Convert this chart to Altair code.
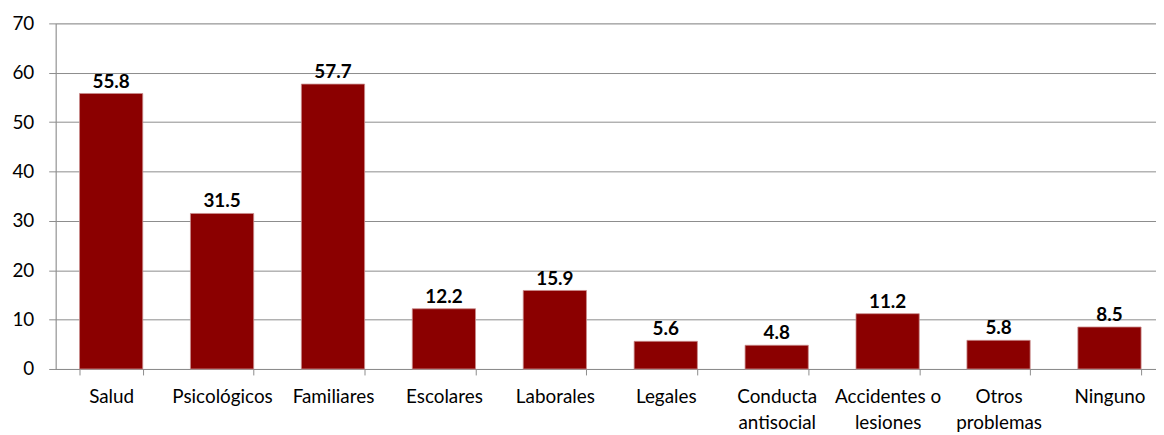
import altair as alt
import pandas as pd

categories = ["Salud", "Psicológicos", "Familiares", "Escolares", "Laborales",
              "Legales", "Conducta\nantisocial", "Accidentes o\nlesiones",
              "Otros\nproblemas", "Ninguno"]
values = [55.8, 31.5, 57.7, 12.2, 15.9, 5.6, 4.8, 11.2, 5.8, 8.5]
y_ticks = [0, 10, 20, 30, 40, 50, 60, 70]

df = pd.DataFrame({"cat": categories, "val": values})
df["lab"] = df["val"].map(lambda v: f"{v:.1f}")

FONT = "Lato"
GRID = "#8c8c8c"

x = alt.X("cat:N", sort=categories, title=None,
          scale=alt.Scale(range=[0, 1117], paddingInner=0.43, paddingOuter=0.215),
          axis=alt.Axis(labelAngle=0, labelExpr="split(datum.label, '\\n')",
                        labelFont=FONT, labelFontSize=19, labelColor="#000000",
                        labelLineHeight=26, labelPadding=13, tickBand="extent",
                        tickSize=6, tickColor=GRID, domainColor=GRID,
                        labelBaseline="top", labelAlign="center"))
y = alt.Y("val:Q", title=None,
          scale=alt.Scale(domain=[0, 70], nice=False),
          axis=alt.Axis(values=y_ticks, labelFont=FONT, labelFontSize=19,
                        labelColor="#000000", labelPadding=15, tickSize=7,
                        tickColor=GRID, domainColor=GRID, gridColor=GRID,
                        gridWidth=1, grid=True))

bars = alt.Chart(df).mark_bar(color="#8b0000", stroke="#c98c8c", strokeWidth=0.8).encode(x=x, y=y)
labels = alt.Chart(df).mark_text(font=FONT, fontSize=19, fontWeight="bold",
                                 color="#000000", baseline="alphabetic", dy=-6).encode(
    x=alt.X("cat:N", sort=categories), y="val:Q", text="lab:N")

chart = (bars + labels).properties(
    width=1108, height=348,
    autosize=alt.AutoSizeParams(type="none"),
    padding={"left": 48, "top": 14, "right": 0, "bottom": 65},
).configure_view(stroke=None).configure(background="white")

chart.save("out.html", embed_options={"renderer": "svg", "actions": False})
